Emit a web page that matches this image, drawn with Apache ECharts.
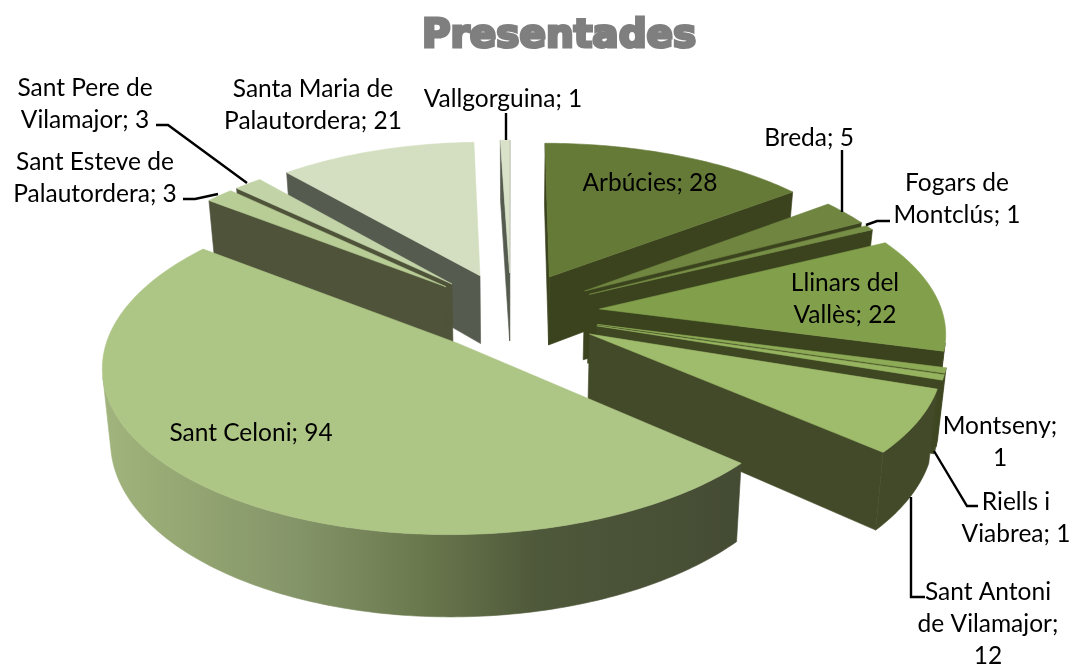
<!DOCTYPE html>
<html>
<head>
<meta charset="utf-8">
<title>Presentades</title>
<script src="https://cdn.jsdelivr.net/npm/echarts@6/dist/echarts.min.js"></script>
<style>
    html, body { margin: 0; padding: 0; background: #fff; }
    #pieMap { width: 1073px; height: 668px; }
</style>
</head>
<body>
<div id="pieMap"></div>
<script>
var categories = ['Arbúcies', 'Breda', 'Fogars de Montclús', 'Llinars del Vallès', 'Montseny', 'Riells i Viabrea',
    'Sant Antoni de Vilamajor', 'Sant Celoni', 'Sant Esteve de Palautordera', 'Sant Pere de Vilamajor',
    'Santa Maria de Palautordera', 'Vallgorguina'];
var values = [28, 5, 1, 22, 1, 1, 12, 94, 3, 3, 21, 1];

// label wording, {v} is the value of the slice
var labelTexts = ['Arbúcies; {v}', 'Breda; {v}', 'Fogars de\nMontclús; {v}', 'Llinars del\nVallès; {v}', 'Montseny;\n{v}',
    'Riells i\nViabrea; {v}', 'Sant Antoni\nde Vilamajor;\n{v}', 'Sant Celoni; {v}', 'Sant Esteve de\nPalautordera; {v}',
    'Sant Pere de\nVilamajor; {v}', 'Santa Maria de\nPalautordera; {v}', 'Vallgorguina; {v}'];
var labelPos = [[650, 183], [809, 138], [957, 199], [845, 299], [1000, 442], [1016, 518], [988, 624], [251, 433],
    [95, 178], [85, 104], [313, 105], [503, 99]];
var leaderLines = [
    [[842, 150], [842, 212]],
    [[866, 225], [877, 221], [890, 221]],
    [[934, 451], [967, 506], [978, 506]],
    [[911, 497], [911, 597], [925, 597]],
    [[183, 199], [195, 199], [218, 194]],
    [[156, 125], [168, 125], [247, 183]],
    [[506, 113], [506, 140]]
];

var topColors = ['#667a38', '#6f8540', '#778e46', '#82a04c', '#8dab56', '#96b460', '#9fbc6c', '#adc585', '#b8cd95', '#c3d3a8', '#d3dfc0', '#d9e2c8'];
var wallColors = ['#3a431d', '#3a431d', '#3a431d', '#3a431d', '#3e4622', '#3e4622', '#434a29', null, '#4e533a', '#4e533a', '#565b4f', '#565b4f'];

// projection of the tilted pie
var centerX = 511, centerY = 313;
var radiusX = 343, radiusY = 159;
var leftSqueeze = [0.975, 0.975, 0.975, 0.975, 0.975, 0.975, 0.975, 1, 0.975, 0.975, 0.975, 0.975];
var perspective = 0.126;
var explode = [0.26, 0.26, 0.26, 0.26, 0.26, 0.26, 0.26, 0.24, 0.26, 0.26, 0.26, 0.26];
var wallHeight = 70;
var bottomLean = 0.98;

function project(u, v, isBottom, squeeze) {
    var s = 1 / (1 + perspective * v);
    var x = radiusX * (u < 0 ? u * squeeze : u) * s;
    var y = centerY - radiusY * v * s;
    if (isBottom) {
        x = x * bottomLean;
        y = y + wallHeight * s;
    }
    return [centerX + x, y];
}

function area(pts) {
    var sum = 0;
    for (var i = 0; i < pts.length; i++) {
        var a = pts[i], b = pts[(i + 1) % pts.length];
        sum += a[0] * b[1] - b[0] * a[1];
    }
    return sum / 2;
}

var total = values.reduce(function (a, b) { return a + b; }, 0);

function buildSlice(index) {
    var before = 0;
    for (var i = 0; i < index; i++) {
        before += values[i];
    }
    var a0 = before / total * Math.PI * 2;
    var a1 = (before + values[index]) / total * Math.PI * 2;
    var mid = (a0 + a1) / 2;
    var squeeze = leftSqueeze[index];
    var ou = explode[index] * Math.sin(mid), ov = explode[index] * Math.cos(mid);
    var steps = Math.max(2, Math.ceil((a1 - a0) / (Math.PI / 180)));
    var rimTop = [], rimBottom = [];
    for (var k = 0; k <= steps; k++) {
        var a = a0 + (a1 - a0) * k / steps;
        rimTop.push(project(ou + Math.sin(a), ov + Math.cos(a), false, squeeze));
        rimBottom.push(project(ou + Math.sin(a), ov + Math.cos(a), true, squeeze));
    }
    return {
        mid: mid,
        apexTop: project(ou, ov, false, squeeze),
        apexBottom: project(ou, ov, true, squeeze),
        rimTop: rimTop,
        rimBottom: rimBottom
    };
}

var slices = values.map(function (v, i) { return buildSlice(i); });

// back slices are painted first
var paintOrder = values.map(function (v, i) { return i; }).sort(function (a, b) {
    return Math.cos(slices[b].mid) - Math.cos(slices[a].mid);
});

var sanCeloniWall = {
    type: 'linear', global: true, x: 100, y: 0, x2: 745, y2: 0,
    colorStops: [
        {offset: 0, color: '#a3b57e'},
        {offset: 0.12, color: '#96a873'},
        {offset: 0.3, color: '#85956a'},
        {offset: 0.5, color: '#6a784d'},
        {offset: 0.68, color: '#4e583a'},
        {offset: 1, color: '#444b33'}
    ]
};

function polygon(points, fill, z2) {
    return {
        type: 'polygon',
        shape: {points: points},
        style: {fill: fill, stroke: fill, lineWidth: 0.6},
        z2: z2,
        silent: true
    };
}

function renderSlice(params) {
    var index = params.dataIndex;
    var s = slices[index];
    var rank = paintOrder.indexOf(index) * 10;
    var wall = wallColors[index] || sanCeloniWall;
    var children = [];
    var last = s.rimTop.length - 1;

    var startWall = [s.apexTop, s.rimTop[0], s.rimBottom[0], s.apexBottom];
    if (area(startWall) < 0) {
        children.push(polygon(startWall, wall, rank + 1));
    }
    var endWall = [s.apexTop, s.rimTop[last], s.rimBottom[last], s.apexBottom];
    if (area(endWall) > 0) {
        children.push(polygon(endWall, wall, rank + 1));
    }

    // outer wall, only the stretches that face the viewer
    var run = null;
    for (var i = 0; i < last; i++) {
        var seg = [s.rimTop[i], s.rimTop[i + 1], s.rimBottom[i + 1], s.rimBottom[i]];
        if (area(seg) < 0) {
            if (!run) {
                run = {top: [s.rimTop[i]], bottom: [s.rimBottom[i]]};
            }
            run.top.push(s.rimTop[i + 1]);
            run.bottom.push(s.rimBottom[i + 1]);
        } else if (run) {
            children.push(polygon(run.top.concat(run.bottom.slice().reverse()), wall, rank + 2));
            run = null;
        }
    }
    if (run) {
        children.push(polygon(run.top.concat(run.bottom.slice().reverse()), wall, rank + 2));
    }

    children.push(polygon([s.apexTop].concat(s.rimTop), topColors[index], rank + 3));
    return {type: 'group', children: children};
}

function renderLabel(params, api) {
    var index = params.dataIndex;
    return {
        type: 'text',
        silent: true,
        z2: 1000,
        style: {
            text: labelTexts[index].replace('{v}', api.value(0)),
            x: labelPos[index][0],
            y: labelPos[index][1],
            align: 'center',
            verticalAlign: 'middle',
            fontFamily: 'Lato',
            fontSize: 24.5,
            lineHeight: 32,
            fill: '#000'
        }
    };
}

function renderLeader(params) {
    return {
        type: 'polyline',
        silent: true,
        z2: 900,
        shape: {points: leaderLines[params.dataIndex]},
        style: {stroke: '#000', lineWidth: 2.4, fill: null}
    };
}

var chart = echarts.init(document.getElementById('pieMap'));
var options = {
    animation: false,
    backgroundColor: '#fff',
    title: {
        text: 'Presentades',
        left: 417,
        top: 12,
        textStyle: {
            fontFamily: 'DejaVu Sans',
            fontWeight: 'bold',
            fontSize: 39,
            color: '#7f7f7f',
            textBorderColor: '#7f7f7f',
            textBorderWidth: 3
        }
    },
    series: [
        {
            type: 'custom',
            coordinateSystem: 'none',
            renderItem: renderSlice,
            data: values,
            z: 1
        },
        {
            type: 'custom',
            coordinateSystem: 'none',
            renderItem: renderLeader,
            data: leaderLines.map(function (l, i) { return i; }),
            z: 2
        },
        {
            type: 'custom',
            coordinateSystem: 'none',
            renderItem: renderLabel,
            data: values,
            z: 3
        }
    ]
};
chart.setOption(options, true);
</script>
</body>
</html>
